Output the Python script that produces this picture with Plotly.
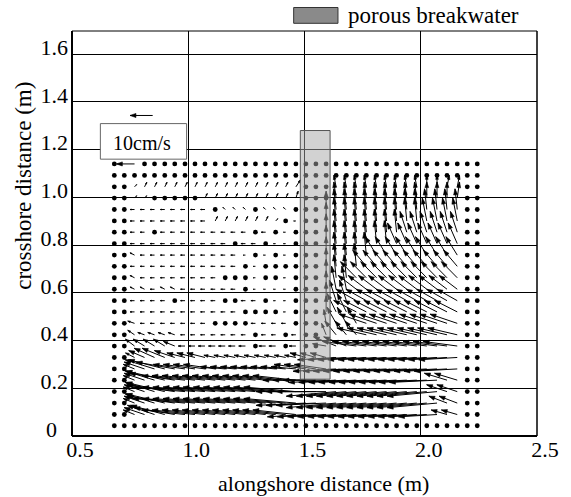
import math
import plotly.graph_objects as go

# ---------------- data ----------------
# grid column positions (alongshore, m)
X_COLS = [0.682, 0.725, 0.769, 0.812, 0.855, 0.899, 0.942, 0.986, 1.029, 1.072,
          1.116, 1.159, 1.202, 1.246, 1.289, 1.333, 1.376, 1.419, 1.463, 1.506,
          1.549, 1.593, 1.636, 1.680, 1.723, 1.766, 1.810, 1.853, 1.896, 1.940,
          1.983, 2.026, 2.070, 2.113, 2.157, 2.200, 2.243]
# grid row positions (crossshore, m), listed top -> bottom
Y_ROWS = [1.140, 1.092, 1.044, 0.997, 0.949, 0.901, 0.854, 0.806, 0.758, 0.711,
          0.663, 0.615, 0.567, 0.520, 0.472, 0.424, 0.377, 0.329, 0.281, 0.234,
          0.186, 0.138, 0.090, 0.043, -0.005]

# velocity components (cm/s), one string per row (top -> bottom), "." = no vector (dot)
# column groups: 0-1 | 2-6 | 7-11 | 12-16 | 17-18 | 19-21 | 22-26 | 27-31 | 32-34 | 35-36
U_ROWS = [
    ". 0 | -8 . . . . | . . . . . | . . . . . | . . | . . . | . . . . . | . . . . . | . . . | . .",
    ". . | . . . . . | . . . . . | . . . . . | . . | . . . | . . . . . | . . . . . | . . . | . .",
    ". . | 1 1 1 1 1 | 1 1 1 1 1 | 1 1 1 1 1 | 1 2 | . . . | -1 -1 -1 -1 -1 | -1 -1 -1 -1 0 | 0 1 1 | . .",
    ". . | 1 1 . . . | . . 1 1 1 | 1 1 1 1 1 | 1 1 | . . . | -1 -1 -1 -1 -1 | -1 -1 -1 -1 0 | 0 0 1 | . .",
    ". . | -2 -2 -2 -2 -2 | -2 -2 -2 . -1 | -1 -1 . -1 -1 | -1 . | . . 0 | -1 -1 -1 -1 -1 | -1 -1 -1 -1 -1 | -1 -1 -1 | . .",
    ". . | -2 -2 -2 -2 -2 | -2 -2 -2 1 1 | 1 1 1 1 1 | . -1 | . . 0 | -1 -1 -1 -1 -1 | -1 -1 -1 -1 -2 | -2 -2 -2 | . .",
    ". . | -2 -2 . -2 -2 | -2 -2 -2 -2 -2 | -2 -2 . -2 . | -1 . | . . 0 | -1 -1 -1 -1 -1 | -1 -1 -3 -3 -3 | -3 -3 -3 | . .",
    ". . | -2 -2 -2 -2 -2 | -2 -2 -2 -2 -2 | . -2 -2 . -1 | -1 . | . . 0 | -1 -1 -1 -1 -1 | -1 -4 -4 -4 -4 | -4 -4 -4 | . .",
    ". . | -2 -2 -2 -2 -2 | -2 -2 -2 -2 -2 | -2 -1 . -1 . | -1 . | . . 0 | -1 -1 -1 -1 -5 | -5 -5 -5 -5 -5 | -5 -5 -5 | . .",
    ". . | -2 -2 -2 -2 -2 | -2 -2 -2 -2 -2 | -2 . -1 . . | . . | . . 0 | -1 -1 -1 -6 -6 | -6 -6 -6 -6 -6 | -6 -6 -6 | . .",
    ". . | -2 -2 -2 -2 -2 | -2 -2 -2 -2 . | . . -1 . . | -1 . | . . 0 | -1 -1 -7 -7 -7 | -7 -7 -7 -7 -7 | -7 -7 -7 | . .",
    ". . | -2 -2 -2 -2 -2 | -2 -2 -2 -2 -2 | -2 . -1 -1 -1 | -1 . | . . 0 | -2 -2 -8 -8 -8 | -8 -8 -8 -8 -8 | -8 -8 -8 | . .",
    ". . | -2 -2 -2 -2 . | -2 -2 -2 -2 . | . -2 -2 . -1 | -1 . | . . 0 | -3 -3 -9 -9 -9 | -9 -9 -9 -9 -9 | -9 -9 -9 | . .",
    ". . | -2 -2 -2 -2 -2 | -2 -2 -2 -2 -2 | -2 . . . . | -1 . | . . 0 | -4 -4 -10 -10 -10 | -10 -10 -10 -10 -10 | -10 -10 -10 | . .",
    ". . | -3 -2 -2 -2 -2 | -2 -2 -2 . . | . . -2 -2 -2 | -2 . | . . -1 | -4 -4 -4 -12 -12 | -12 -12 -12 -12 -12 | -12 -12 -12 | . .",
    ". . | -3 -3 -3 -3 -3 | -2 -2 -2 -2 -2 | -2 -2 . -2 -2 | . -2 | . . -2 | -5 -5 -5 -13 -13 | -13 -13 -13 -13 -13 | -13 -13 -13 | . .",
    ". . | -4 -5 -5 -5 -5 | -3 -3 -3 -3 -3 | -3 -3 . -3 -3 | . -3 | . . -6 | -10 -10 -15 -15 -15 | -15 -15 -15 -15 -15 | -15 -15 -15 | . .",
    ". . | -4 -7 -9 -10 -9 | -8 -8 -8 -5 -5 | -5 -5 -5 -5 -5 | -5 -5 | -7 -7 -7 | -17 -17 -17 -17 -17 | -17 -17 -17 -17 -17 | -17 -17 -17 | . .",
    ". . | -5 -9 -13 -16 -17 | -14 -14 -14 -14 -11 | -11 -11 -11 -11 -11 | -11 -11 | -14 -14 -14 | -19 -19 -19 -19 -19 | -19 -19 -19 -19 -19 | -19 -19 -19 | . .",
    ". . | -5 -9 -13 -17 -20 | -19 -19 -19 -19 -19 | -19 -19 -19 -19 -19 | -19 -19 | -19 -19 -19 | -21 -21 -21 -21 -21 | -21 -21 -21 -21 -21 | -21 -10 -10 | . .",
    ". . | -5 -9 -13 -17 -21 | -23 -23 -23 -23 -23 | -23 -23 -23 -23 -23 | -23 -23 | -22 -22 -22 | -22 -22 -22 -22 -22 | -22 -22 -22 -22 -22 | -22 -9 -9 | . .",
    ". . | -5 -9 -13 -17 -21 | -23 -23 -23 -23 -23 | -23 -23 -23 -23 -23 | -23 -23 | -22 -22 -22 | -22 -22 -22 -22 -22 | -22 -22 -22 -22 -22 | -22 -8 -8 | . .",
    ". . | -5 -9 -12 -15 -18 | -19 -19 -19 -19 -19 | -19 -19 -19 -19 -19 | -19 -19 | -17 -17 -17 | -17 -17 -17 -17 -17 | -17 -17 -17 -17 -17 | -17 -7 -7 | . .",
    ". . | . . . . . | . . . . . | . . . . . | . . | . . . | . . . . . | . . . . . | . . . | . .",
    ". . | . . . . . | . . . . . | . . . . . | . . | . . . | . . . . . | . . . . . | . . . | . .",
]
V_ROWS = [
    ". 0 | 0 . . . . | . . . . . | . . . . . | . . | . . . | . . . . . | . . . . . | . . . | . .",
    ". . | . . . . . | . . . . . | . . . . . | . . | . . . | . . . . . | . . . . . | . . . | . .",
    ". . | 1 2 2 2 2 | 2 2 2 2 2 | 2 2 2 2 2 | 2 3 | . . . | 5 5 5 5 5 | 5 5 5 5 5 | 5 5 5 | . .",
    ". . | 1 1 . . . | . . 2 2 2 | 2 2 2 2 2 | 2 3 | . . . | 7 7 7 7 7 | 7 7 7 7 7 | 7 7 7 | . .",
    ". . | 0 0 0 0 0 | 0 0 0 . 1 | 1 1 . 1 1 | 1 . | . . 8 | 9 9 9 9 9 | 9 9 9 9 9 | 9 9 9 | . .",
    ". . | 0 0 0 0 0 | 0 0 0 2 2 | 2 2 2 2 1 | . 0 | . . 8 | 10 10 10 10 10 | 10 10 10 10 10 | 10 10 10 | . .",
    ". . | 0 0 . 0 0 | 0 0 0 0 0 | 0 0 . 0 . | 0 . | . . 8 | 10 10 10 10 10 | 10 10 9 9 9 | 9 9 9 | . .",
    ". . | 0 0 0 0 0 | 0 0 0 0 0 | . 0 0 . 0 | 0 . | . . 8 | 10 10 10 10 10 | 10 9 9 9 9 | 9 9 9 | . .",
    ". . | 1 0 0 0 0 | 0 0 0 0 0 | 0 0 . 0 . | 0 . | . . 8 | 10 10 10 10 8 | 8 8 8 8 8 | 8 8 8 | . .",
    ". . | 0 0 0 0 0 | 0 0 0 0 0 | 0 . 0 . . | . . | . . 8 | 10 10 10 7 7 | 7 7 7 7 7 | 7 7 7 | . .",
    ". . | 1 0 0 0 0 | 0 0 0 0 . | . . 0 . . | 0 . | . . 8 | 10 10 7 7 7 | 7 7 7 7 7 | 7 7 7 | . .",
    ". . | 1 1 0 1 1 | 0 0 0 0 0 | 0 . 0 0 0 | 0 . | . . 8 | 10 10 6 6 6 | 6 6 6 6 6 | 6 6 6 | . .",
    ". . | 0 0 0 0 . | 0 0 0 0 . | . 0 0 . 0 | 0 . | . . 8 | 9 9 5 5 5 | 5 5 5 5 5 | 5 5 5 | . .",
    ". . | 0 0 0 0 0 | 0 0 0 0 0 | 0 . . . . | 0 . | . . 7 | 8 8 5 5 5 | 5 5 5 5 5 | 5 5 5 | . .",
    ". . | 1 0 0 0 0 | 0 0 0 . . | . . 0 0 0 | 0 . | . . 6 | 7 7 7 4 4 | 4 4 4 4 4 | 4 4 4 | . .",
    ". . | 2 1 1 1 1 | 0 0 0 0 0 | 0 0 . 0 0 | . 0 | . . 5 | 6 6 6 3 3 | 3 3 3 3 3 | 3 3 3 | . .",
    ". . | 3 3 3 3 2 | 0 0 0 0 0 | 0 0 . 0 0 | . 0 | . . 1 | 4 4 2 2 2 | 2 2 2 2 2 | 2 2 2 | . .",
    ". . | 2 3 4 4 3 | 2 2 2 1 1 | 1 1 1 1 1 | 1 1 | 2 2 2 | -1 -1 -1 -1 -1 | -1 -1 -1 -1 -1 | -1 -1 -1 | . .",
    ". . | 2 3 4 4 3 | 2 2 2 2 1 | 1 1 1 1 1 | 1 1 | 2 2 2 | -1 -1 -1 -1 -1 | -1 -1 -1 -1 -1 | -1 -1 -1 | . .",
    ". . | 2 3 4 4 3 | 2 2 2 2 2 | 2 2 2 2 2 | 2 2 | 0 0 0 | -1 -1 -1 -1 -1 | -1 -1 -1 -1 -1 | -1 3 3 | . .",
    ". . | 2 3 4 4 3 | 2 2 2 2 2 | 2 2 2 2 2 | 2 2 | 0 0 0 | -2 -2 -2 -2 -2 | -2 -2 -2 -2 -2 | -2 3 3 | . .",
    ". . | 2 3 4 4 3 | 2 2 2 2 2 | 2 2 2 2 2 | 2 2 | -1 -1 -1 | -2 -2 -2 -2 -2 | -2 -2 -2 -2 -2 | -2 3 3 | . .",
    ". . | 2 3 4 4 3 | 2 2 2 2 2 | 2 2 2 2 2 | 2 2 | -1 -1 -1 | -1 -1 -1 -1 -1 | -1 -1 -1 -1 -1 | -1 2 2 | . .",
    ". . | . . . . . | . . . . . | . . . . . | . . | . . . | . . . . . | . . . . . | . . . | . .",
    ". . | . . . . . | . . . . . | . . . . . | . . | . . . | . . . . . | . . . . . | . . . | . .",
]

REF_SPEED = 10          # cm/s reference vector
REF_LABEL = "10cm/s"
BREAKWATER = dict(x0=1.482, x1=1.610, y0=0.238, y1=1.28)

X_TICKS = [0.5, 1.0, 1.5, 2.0, 2.5]
X_TICK_TEXT = ["0.5", "1.0", "1.5", "2.0", "2.5"]
Y_TICKS = [0, 0.2, 0.4, 0.6, 0.8, 1.0, 1.2, 1.4, 1.6]
Y_TICK_TEXT = ["0\u00a0\u00a0", "0.2", "0.4", "0.6", "0.8", "1.0", "1.2", "1.4", "1.6"]

# ---------------- geometry ----------------
W, H = 571, 497
ML, MR, MT, MB = 72, 27, 31, 61
XR = [0.5, 2.5]
YR = [0.0, 1.697]
PX_X = (W - ML - MR) / (XR[1] - XR[0])
PX_Y = (H - MT - MB) / (YR[1] - YR[0])
CM_PX = 2.3   # pixels per cm/s
FONT = "Liberation Serif"


def parse(row):
    out = []
    for t in row.replace("|", " ").split():
        out.append(None if t == "." else float(t))
    out = (out + [None] * len(X_COLS))[:len(X_COLS)]
    return out


lx, ly, hx, hy, dx, dy = [], [], [], [], [], []


def add_arrow(x, y, u, v):
    dxp, dyp = u * CM_PX, v * CM_PX
    L = math.hypot(dxp, dyp)
    if L == 0:
        return
    ex, ey = x + dxp / PX_X, y + dyp / PX_Y
    lx.extend([x, ex, None]); ly.extend([y, ey, None])
    h = min(0.35 * L, 6.0)
    w = 0.34 * h
    ux, uy = dxp / L, dyp / L
    bxp, byp = -ux * h, -uy * h
    px, py = -uy * w, ux * w
    p1 = (ex + (bxp + px) / PX_X, ey + (byp + py) / PX_Y)
    p2 = (ex + (bxp - px) / PX_X, ey + (byp - py) / PX_Y)
    hx.extend([ex, p1[0], p2[0], ex, None]); hy.extend([ey, p1[1], p2[1], ey, None])


for r, (us, vs) in enumerate(zip(U_ROWS, V_ROWS)):
    ul, vl = parse(us), parse(vs)
    for c in range(len(X_COLS)):
        u, v = ul[c], vl[c]
        if u is None or v is None:
            dx.append(X_COLS[c]); dy.append(Y_ROWS[r])
            continue
        add_arrow(X_COLS[c], Y_ROWS[r], u, v)

# reference arrow above the label box
add_arrow(0.847, 1.343, -REF_SPEED, 0)

fig = go.Figure()
fig.add_trace(go.Scatter(x=dx, y=dy, mode="markers", cliponaxis=False,
                         marker=dict(size=4.8, color="black"), hoverinfo="skip"))
fig.add_trace(go.Scatter(x=lx, y=ly, mode="lines", line=dict(color="black", width=1),
                         hoverinfo="skip"))
fig.add_trace(go.Scatter(x=hx, y=hy, mode="lines", fill="toself", fillcolor="black",
                         line=dict(color="black", width=0.6), hoverinfo="skip"))

shapes = []
# porous breakwater
shapes.append(dict(type="rect", xref="x", yref="y", layer="above",
                   fillcolor="rgba(165,165,165,0.5)", line=dict(color="#555", width=1),
                   **BREAKWATER))
# label box
shapes.append(dict(type="rect", xref="x", yref="y", layer="above", x0=0.622, x1=0.993,
                   y0=1.160, y1=1.309, fillcolor="white", line=dict(color="#666", width=1)))
# legend swatch
shapes.append(dict(type="rect", xref="paper", yref="paper", x0=0.4767, x1=0.572,
                   y0=1.019, y1=1.058, fillcolor="#8a8a8a", line=dict(color="#333", width=1)))
# frame
shapes.append(dict(type="line", xref="paper", yref="paper", x0=0, x1=1, y0=0, y1=0,
                   line=dict(color="black", width=2), layer="above"))
shapes.append(dict(type="line", xref="paper", yref="paper", x0=0, x1=0, y0=0, y1=1,
                   line=dict(color="black", width=2), layer="above"))
shapes.append(dict(type="line", xref="paper", yref="paper", x0=0, x1=1, y0=1, y1=1,
                   line=dict(color="black", width=1), layer="above"))
shapes.append(dict(type="line", xref="paper", yref="paper", x0=1, x1=1, y0=0, y1=1,
                   line=dict(color="black", width=1.5), layer="above"))

annotations = [
    dict(text="porous breakwater", xref="paper", yref="paper", x=0.589, y=1.0388,
         xanchor="left", yanchor="middle", showarrow=False,
         font=dict(family=FONT, size=23, color="black")),
    dict(text=REF_LABEL, xref="x", yref="y", x=0.669, y=1.226, xanchor="left",
         yanchor="middle", showarrow=False, font=dict(family=FONT, size=20, color="black")),
    dict(text="alongshore distance (m)", xref="paper", yref="paper", x=0.541, y=-0.118,
         xanchor="center", yanchor="middle", showarrow=False,
         font=dict(family=FONT, size=22, color="black")),
    dict(text="crosshore distance (m)", xref="paper", yref="paper", x=-0.106, y=0.617,
         xanchor="center", yanchor="middle", textangle=-90, showarrow=False,
         font=dict(family=FONT, size=23, color="black")),
]

fig.update_layout(
    width=W, height=H, margin=dict(l=ML, r=MR, t=MT, b=MB, pad=0),
    paper_bgcolor="white", plot_bgcolor="white", showlegend=False,
    shapes=shapes, annotations=annotations,
    xaxis=dict(range=XR, tickvals=X_TICKS, ticktext=X_TICK_TEXT, showgrid=True,
               gridcolor="black", gridwidth=1, zeroline=False, showline=False, ticks="",
               tickfont=dict(family=FONT, size=22, color="black"),
               ticklabelshift=8, ticklabelstandoff=-2, fixedrange=True),
    yaxis=dict(range=YR, tickvals=Y_TICKS, ticktext=Y_TICK_TEXT, showgrid=True,
               gridcolor="black", gridwidth=1, zeroline=False, showline=False, ticks="",
               tickfont=dict(family=FONT, size=22, color="black"),
               ticklabelshift=-7, ticklabelstandoff=3, fixedrange=True),
)

fig.write_html("out.html", config={"displayModeBar": False},
               post_script="document.body.style.margin='0px';"
                           "document.body.style.overflow='hidden';")
